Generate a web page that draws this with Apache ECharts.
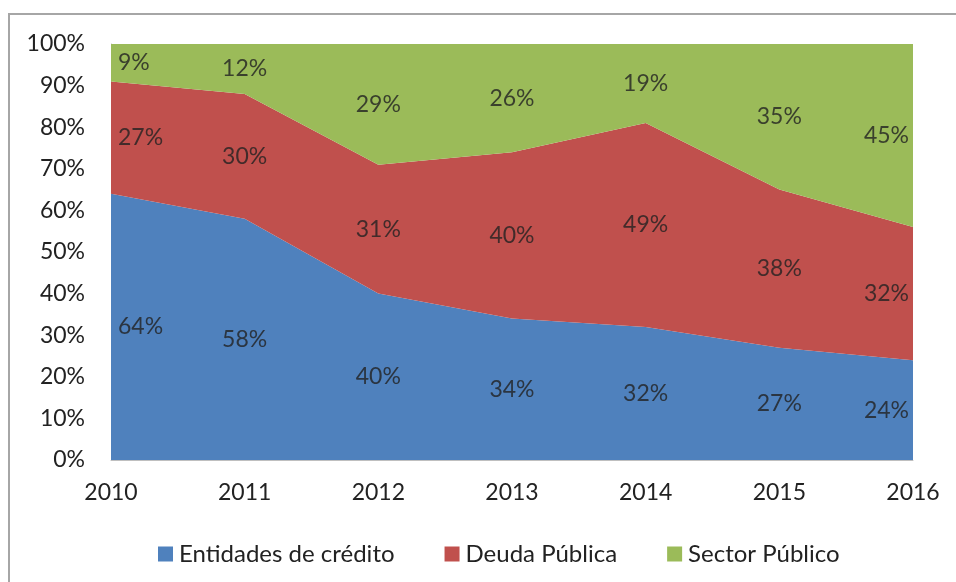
<!DOCTYPE html>
<html>
<head>
<meta charset="utf-8">
<script src="https://cdn.jsdelivr.net/npm/echarts@6/dist/echarts.min.js"></script>
<style>html,body{margin:0;padding:0;background:#fff}#c{width:956px;height:582px}</style>
</head>
<body>
<div id="c"></div>
<script>
const years = ['2010','2011','2012','2013','2014','2015','2016'];
const entidades = [64, 58, 40, 34, 32, 27, 24];
const deuda = [27, 30, 31, 40, 49, 38, 32];
const sector = [9, 12, 29, 26, 19, 35, 45];
const seriesNames = ['Entidades de crédito', 'Deuda Pública', 'Sector Público'];
const colors = ['#4F81BD', '#C0504D', '#9BBB59'];

const FONT = 'Lato, "Liberation Sans", sans-serif';
const FS = 23;
const layers = [entidades, deuda, sector];

function labelItems(k) {
  const n = years.length;
  return layers[k].map((v, i) => {
    let base = 0;
    for (let j = 0; j < k; j++) base += layers[j][i];
    const top = Math.min(100, base + v);
    const item = { value: (base + top) / 2, raw: v };
    if (i === 0) item.label = { position: 'right', distance: 7 };
    else if (i === n - 1) item.label = { position: 'left', distance: 4 };
    return item;
  });
}

const series = layers.map((d, k) => ({
  name: seriesNames[k],
  type: 'line',
  stack: 'total',
  data: d,
  symbol: 'none',
  lineStyle: { width: 0 },
  areaStyle: { color: colors[k], opacity: 1 },
  itemStyle: { color: colors[k] },
  silent: true,
  clip: true,
  z: 2
}));
layers.forEach((d, k) => {
  series.push({
    type: 'scatter',
    data: labelItems(k),
    symbolSize: 0,
    silent: true,
    z: 5,
    label: {
      show: true,
      position: 'inside',
      formatter: p => p.data.raw + '%',
      fontSize: FS,
      fontFamily: FONT,
      color: '#222'
    }
  });
});

const chart = echarts.init(document.getElementById('c'));
chart.setOption({
  animation: false,
  color: colors,
  graphic: [{
    type: 'rect',
    shape: { x: 9, y: 14, width: 1200, height: 1200 },
    style: { fill: 'none', stroke: '#a6a6a6', lineWidth: 2 },
    silent: true
  }],
  grid: { left: 111, top: 44, right: 43, bottom: 122, containLabel: false },
  xAxis: {
    type: 'category',
    data: years,
    boundaryGap: false,
    axisLine: { lineStyle: { color: '#bfbfbf', width: 1 } },
    axisTick: { show: false },
    axisLabel: { fontSize: FS, fontFamily: FONT, color: '#222', margin: 21 },
    splitLine: { show: false }
  },
  yAxis: {
    type: 'value',
    min: 0, max: 100, interval: 10,
    axisLine: { show: true, lineStyle: { color: '#bfbfbf', width: 1 } },
    axisTick: { show: false },
    axisLabel: { formatter: '{value}%', fontSize: FS, fontFamily: FONT, color: '#222', margin: 26 },
    splitLine: { show: false }
  },
  legend: {
    data: seriesNames,
    top: 537,
    left: 153,
    itemWidth: 15,
    itemHeight: 15,
    itemGap: 50,
    icon: 'rect',
    textStyle: { fontSize: 24, fontFamily: FONT, color: '#222', padding: [0, 0, 0, 1] }
  },
  series: series
});
</script>
</body>
</html>
